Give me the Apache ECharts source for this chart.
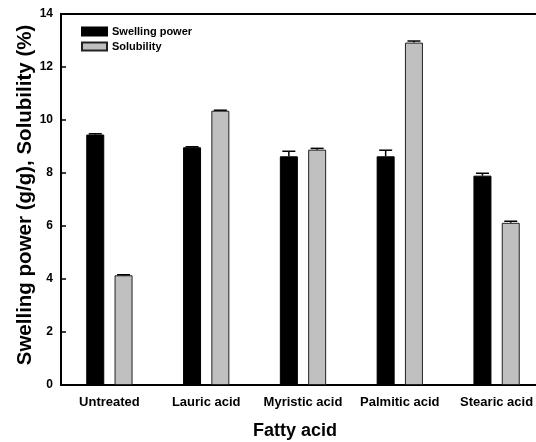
<!DOCTYPE html>
<html>
<head>
<meta charset="utf-8">
<script src="https://cdn.jsdelivr.net/npm/echarts@6/dist/echarts.min.js"></script>
<style>
  html, body { margin: 0; padding: 0; background: #fff; }
  #chart { width: 536px; height: 442px; }
</style>
</head>
<body>
<div id="chart"></div>
<script>
// Fatty acid treatments on the x axis
const categories = ['Untreated', 'Lauric acid', 'Myristic acid', 'Palmitic acid', 'Stearic acid'];

// Swelling power (g/g) with standard deviation
const swellingPower = [9.45, 8.97, 8.63, 8.63, 7.90];
const swellingErr = [0.03, 0.02, 0.19, 0.23, 0.09];

// Solubility (%) with standard deviation
const solubility = [4.14, 10.35, 8.88, 12.92, 6.12];
const solubilityErr = [0.02, 0.02, 0.05, 0.06, 0.06];

// Y axis ticks
const yTicks = [0, 2, 4, 6, 8, 10, 12, 14];

const FONT = '"Liberation Sans", Arial, sans-serif';
const BAR_W = 18;
const BAR_GAP = 10.3;
const OFFSET = (BAR_W + BAR_GAP) / 2;

function errorBarSeries(values, errs, dir) {
  return {
    type: 'custom',
    silent: true,
    z: 5,
    data: values.map((v, i) => [i, v, errs[i]]),
    renderItem: function (params, api) {
      const idx = api.value(0);
      const top = api.coord([idx, api.value(1) + api.value(2)]);
      const base = api.coord([idx, api.value(1)]);
      const x = top[0] + dir * OFFSET;
      const half = 6.5;
      const style = { stroke: '#000', lineWidth: 1.5 };
      return {
        type: 'group',
        children: [
          { type: 'line', shape: { x1: x, y1: base[1], x2: x, y2: top[1] }, style: style },
          { type: 'line', shape: { x1: x - half, y1: top[1], x2: x + half, y2: top[1] }, style: style }
        ]
      };
    }
  };
}

const chart = echarts.init(document.getElementById('chart'), null, { renderer: 'canvas' });

chart.setOption({
  backgroundColor: '#fff',
  animation: false,
  textStyle: { fontFamily: FONT },
  grid: {
    left: 61, top: 14, bottom: 57, width: 484,
    outerBoundsMode: 'none',
    containLabel: false,
    show: true, borderColor: '#000', borderWidth: 2, backgroundColor: 'transparent'
  },
  legend: {
    orient: 'vertical',
    left: 76, top: 21,
    icon: 'rect',
    itemWidth: 25, itemHeight: 8, itemGap: 4,
    textStyle: { fontFamily: FONT, fontWeight: 'bold', fontSize: 11, color: '#000' },
    data: ['Swelling power', 'Solubility']
  },
  xAxis: {
    type: 'category',
    data: categories,
    name: 'Fatty acid',
    nameLocation: 'middle',
    nameGap: 37,
    nameTextStyle: { fontFamily: FONT, fontWeight: 'bold', fontSize: 18, color: '#000', padding: [0, 16, 0, 0] },
    axisLine: { lineStyle: { color: '#000', width: 2 } },
    axisTick: { inside: true, alignWithLabel: true, length: 6, lineStyle: { color: '#000', width: 1.5 } },
    axisLabel: { interval: 0, fontFamily: FONT, fontWeight: 'bold', fontSize: 13, color: '#000', margin: 11 },
    splitLine: { show: false }
  },
  yAxis: {
    type: 'value',
    min: yTicks[0],
    max: yTicks[yTicks.length - 1],
    interval: 2,
    name: 'Swelling power (g/g), Solubility (%)',
    nameLocation: 'middle',
    nameGap: 25,
    nameMoveOverlap: false,
    nameRotate: 90,
    nameTextStyle: { fontFamily: FONT, fontWeight: 'bold', fontSize: 20.5, color: '#000', padding: [0, 0, 0, 9] },
    axisLine: { show: true, lineStyle: { color: '#000', width: 2 } },
    axisTick: { show: true, inside: true, length: 5, lineStyle: { color: '#000', width: 1.5 } },
    axisLabel: { fontFamily: FONT, fontWeight: 'bold', fontSize: 12, color: '#000', margin: 8 },
    splitLine: { show: false }
  },
  series: [
    {
      name: 'Swelling power',
      type: 'bar',
      data: swellingPower,
      barWidth: BAR_W,
      barGap: (BAR_GAP / BAR_W * 100).toFixed(1) + '%',
      itemStyle: { color: '#000', borderColor: '#000', borderWidth: 1 }
    },
    {
      name: 'Solubility',
      type: 'bar',
      data: solubility,
      barWidth: BAR_W,
      itemStyle: { color: '#c0c0c0', borderColor: '#222', borderWidth: 1 }
    },
    errorBarSeries(swellingPower, swellingErr, -1),
    errorBarSeries(solubility, solubilityErr, 1)
  ]
});
</script>
</body>
</html>
